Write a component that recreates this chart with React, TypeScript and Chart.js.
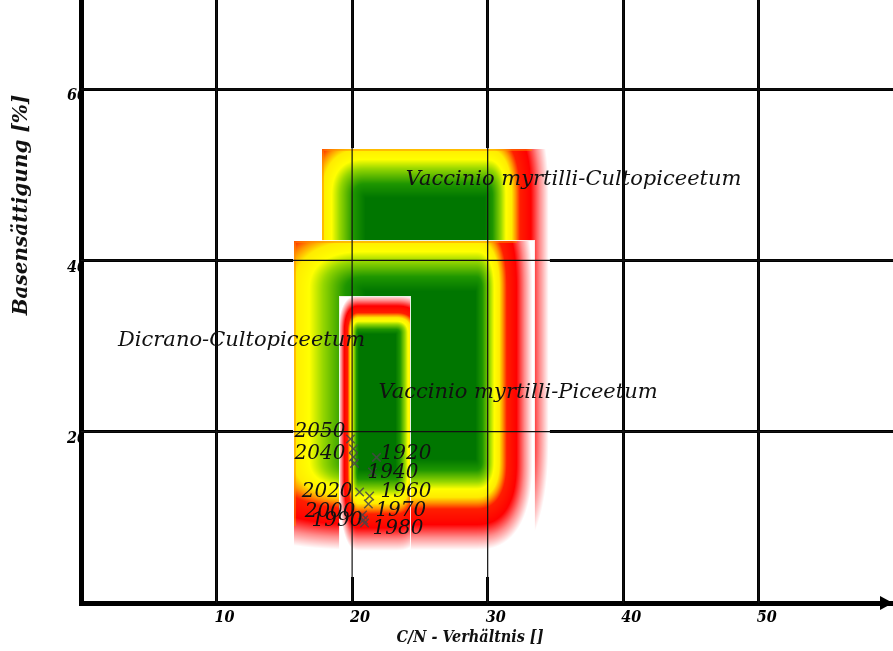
import React, { useEffect, useRef } from 'react';
import { Chart, registerables } from 'chart.js';

Chart.register(...registerables);

// ---- survey points (C/N ratio vs. base saturation) ----
const years = ['1920', '1940', '1960', '1970', '1980', '1990', '2000', '2010', '2020', '2030', '2040', '2050'];
const cnRatio = [21.8, 21.5, 21.29, 21.2, 20.92, 20.84, 20.77, 20.18, 20.55, 20.1, 20.1, 19.88];
const baseSat = [17.0, 15.3, 12.49, 11.56, 9.34, 9.69, 10.27, 16.3, 12.96, 18.0, 17.04, 19.14];
const yearLabelShown = [true, true, true, true, true, true, true, false, true, false, true, true];
const labelAlign = ['left', 'left', 'left', 'left', 'left', 'right', 'right', 'left', 'right', 'left', 'right', 'right'];
const labelDx = [4, -5, 11, 7, 8, -1, -7, 0, -7, 0, -8, -5];
const labelDy = [-4, 1, -4, 7, 6, 1, -3, 0, 0, 0, -3, -7];

// ---- axis ticks ----
const xTickValues = [0, 10, 20, 30, 40, 50];
const yTickValues = [0, 20, 40, 60];
const xTitle = 'C/N - Verhältnis []';
const yTitle = 'Basensättigung [%]';

// ---- vegetation zones ----
const zoneNames = ['Vaccinio myrtilli-Cultopiceetum', 'Dicrano-Cultopiceetum', 'Vaccinio myrtilli-Piceetum'];
const zoneCnMin = [17.8, 15.7, 19.1];
const zoneCnMax = [34.5, 33.4, 24.3];
const zoneBsMin = [3.1, 3.1, 3.1];
const zoneBsMax = [53.0, 42.3, 35.7];
// optimum ranges
const optCnMin = [21.0, 21.0, 20.5];
const optCnMax = [29.8, 29.1, 23.2];
const optBsMin = [20.0, 16.8, 15.6];
const optBsMax = [47.3, 36.4, 31.4];
// tolerance beyond optimum
const tolCnLow = [7.6, 12.6, 1.5];
const tolCnHigh = [4.7, 4.2, 2.8];
const tolBsLow = [16, 10.6, 9.5];
const tolBsHigh = [13.6, 14, 4.55];
const zoneLabelCn = [23.95, 2.73, 21.95];
const zoneLabelBs = [49.4, 30.6, 24.6];

const stops: number[][] = [
  [0.0, 0, 118, 0],
  [0.12, 30, 150, 0],
  [0.25, 150, 215, 0],
  [0.33, 255, 255, 0],
  [0.42, 255, 235, 0],
  [0.48, 255, 150, 0],
  [0.55, 255, 30, 0],
  [0.72, 255, 0, 0],
  [0.86, 255, 140, 140],
  [1.0, 255, 255, 255],
];

function colorAt(d: number): number[] {
  if (d <= 0) return [stops[0][1], stops[0][2], stops[0][3]];
  if (d >= 1) return [255, 255, 255];
  for (let k = 1; k < stops.length; k++) {
    if (d <= stops[k][0]) {
      const a = stops[k - 1], b = stops[k];
      const f = (d - a[0]) / (b[0] - a[0]);
      return [a[1] + (b[1] - a[1]) * f, a[2] + (b[2] - a[2]) * f, a[3] + (b[3] - a[3]) * f];
    }
  }
  return [255, 255, 255];
}

const zonePlugin = {
  id: 'zones',
  beforeDatasetsDraw(chart: any) {
    const { ctx, chartArea } = chart;
    const x = chart.scales.x, y = chart.scales.y;
    const p = 2.5;
    ctx.save();
    for (let z = 0; z < zoneNames.length; z++) {
      const left = Math.round(x.getPixelForValue(zoneCnMin[z]));
      const right = Math.round(x.getPixelForValue(zoneCnMax[z]));
      const top = Math.round(y.getPixelForValue(zoneBsMax[z]));
      const bottom = Math.round(y.getPixelForValue(zoneBsMin[z]));
      const w = right - left, h = bottom - top;
      const off = document.createElement('canvas');
      off.width = w; off.height = h;
      const octx = off.getContext('2d')!;
      const img = octx.createImageData(w, h);
      for (let j = 0; j < h; j++) {
        const vy = y.getValueForPixel(top + j + 0.5);
        const dy = vy < optBsMin[z] ? (optBsMin[z] - vy) / tolBsLow[z] : vy > optBsMax[z] ? (vy - optBsMax[z]) / tolBsHigh[z] : 0;
        for (let i = 0; i < w; i++) {
          const vx = x.getValueForPixel(left + i + 0.5);
          const dx = vx < optCnMin[z] ? (optCnMin[z] - vx) / tolCnLow[z] : vx > optCnMax[z] ? (vx - optCnMax[z]) / tolCnHigh[z] : 0;
          const d = Math.pow(Math.pow(dx, p) + Math.pow(dy, p), 1 / p);
          let c = colorAt(d);
          if ((i < 2 || j < 2) && d < 0.8) {
            c = [c[0] * 0.5 + 255 * 0.5, c[1] * 0.5 + 140 * 0.5, c[2] * 0.5];
          }
          const o = (j * w + i) * 4;
          img.data[o] = c[0]; img.data[o + 1] = c[1]; img.data[o + 2] = c[2]; img.data[o + 3] = 255;
        }
      }
      octx.putImageData(img, 0, 0);
      ctx.drawImage(off, left, top);
      ctx.strokeStyle = 'rgba(255,255,255,0.9)';
      ctx.lineWidth = 1;
      ctx.strokeRect(left - 0.5, top - 0.5, w + 1, h + 1);
    }
    // thin grid lines over zones
    ctx.strokeStyle = '#111';
    ctx.lineWidth = 1.2;
    ctx.beginPath();
    x.ticks.forEach((t: any) => {
      if (t.value === 0) return;
      const px = x.getPixelForValue(t.value);
      ctx.moveTo(px, chartArea.top); ctx.lineTo(px, chartArea.bottom);
    });
    y.ticks.forEach((t: any) => {
      if (t.value === 0) return;
      const py = y.getPixelForValue(t.value);
      ctx.moveTo(chartArea.left, py); ctx.lineTo(chartArea.right, py);
    });
    ctx.stroke();
    ctx.restore();
  },
  afterDatasetsDraw(chart: any) {
    const { ctx } = chart;
    const x = chart.scales.x, y = chart.scales.y;
    ctx.save();
    ctx.fillStyle = '#111';
    ctx.textBaseline = 'middle';
    ctx.textAlign = 'left';
    ctx.font = 'italic 21px "DejaVu Serif"';
    zoneNames.forEach((n, z) => {
      ctx.fillText(n, x.getPixelForValue(zoneLabelCn[z]), y.getPixelForValue(zoneLabelBs[z]));
    });
    ctx.font = 'italic 20px "DejaVu Serif"';
    years.forEach((yr, i) => {
      if (!yearLabelShown[i]) return;
      ctx.textAlign = labelAlign[i] as CanvasTextAlign;
      ctx.fillText(yr, x.getPixelForValue(cnRatio[i]) + labelDx[i], y.getPixelForValue(baseSat[i]) + labelDy[i]);
    });
    ctx.restore();
  },
  afterDraw(chart: any) {
    const { ctx, chartArea } = chart;
    ctx.save();
    const ay = chartArea.bottom;
    ctx.fillStyle = '#000';
    ctx.beginPath();
    ctx.moveTo(chartArea.right, ay);
    ctx.lineTo(chartArea.right - 13, ay - 7);
    ctx.lineTo(chartArea.right - 13, ay + 7);
    ctx.closePath();
    ctx.fill();
    ctx.fillStyle = '#111';
    ctx.textAlign = 'center';
    ctx.textBaseline = 'middle';
    ctx.font = 'italic bold 16px "DejaVu Serif Condensed", "DejaVu Serif"';
    ctx.fillText(xTitle, 470, 638);
    ctx.translate(22, 205);
    ctx.rotate(-Math.PI / 2);
    ctx.font = 'italic bold 20px "DejaVu Serif"';
    ctx.fillText(yTitle, 0, 0);
    ctx.restore();
  },
};

export default function App() {
  const ref = useRef<HTMLCanvasElement>(null);
  useEffect(() => {
    const tickFont = { family: '"DejaVu Serif Condensed", "DejaVu Serif"', size: 16, weight: 'bold' as const, style: 'italic' as const };
    const chart = new Chart(ref.current!, {
      type: 'scatter',
      data: {
        datasets: [
          {
            data: cnRatio.map((v, i) => ({ x: v, y: baseSat[i] })),
            pointStyle: 'crossRot',
            pointRadius: 6,
            pointBorderWidth: 1.5,
            borderColor: 'rgba(70,70,70,0.85)',
            backgroundColor: 'rgba(70,70,70,0.85)',
          },
        ],
      },
      options: {
        responsive: false,
        animation: false,
        layout: { padding: 0, autoPadding: false },
        plugins: { legend: { display: false }, tooltip: { enabled: false }, title: { display: false } },
        scales: {
          x: {
            type: 'linear',
            min: 0,
            max: 59.9,
            grid: { color: '#000', lineWidth: 3, drawTicks: false },
            border: { color: '#000', width: 5 },
            afterBuildTicks: (s: any) => { s.ticks = xTickValues.map((v) => ({ value: v })); },
            ticks: {
              padding: 5,
              labelOffset: 8,
              color: '#000',
              font: tickFont,
              maxRotation: 0,
              autoSkip: false,
              callback: (v: any) => (v === 0 ? '' : String(v)),
            },
            afterFit: (s: any) => {
              s.height = 48;
              s.paddingLeft = 0;
              s.paddingRight = 0;
            },
          },
          y: {
            type: 'linear',
            min: 0,
            max: 70.4,
            grid: { color: '#000', lineWidth: 3, drawTicks: false },
            border: { color: '#000', width: 5 },
            afterBuildTicks: (s: any) => { s.ticks = yTickValues.map((v) => ({ value: v })); },
            ticks: {
              padding: -6,
              labelOffset: 7,
              color: '#000',
              font: tickFont,
              callback: (v: any) => (v === 0 ? '' : String(v)),
            },
            afterFit: (s: any) => {
              s.width = 81;
              s.paddingTop = 0;
              s.paddingBottom = 0;
            },
          },
        },
      },
      plugins: [zonePlugin],
    });
    return () => chart.destroy();
  }, []);
  return (
    <div style={{ position: 'fixed', left: 0, top: 0, width: 893, height: 651, background: '#fff' }}>
      <canvas ref={ref} width={893} height={651} />
    </div>
  );
}
